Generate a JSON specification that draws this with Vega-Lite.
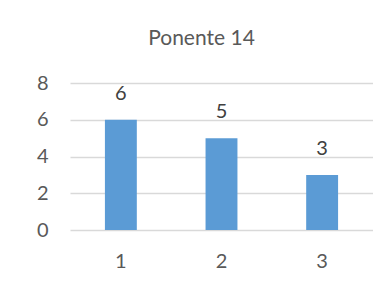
{
  "$schema": "https://vega.github.io/schema/vega-lite/v6.json",
  "autosize": "none",
  "width": 303,
  "height": 147,
  "padding": {"left": 70, "top": 83, "right": 0, "bottom": 64},
  "background": "white",
  "title": {
    "text": "Ponente 14",
    "anchor": "middle",
    "frame": "group",
    "font": "Lato",
    "fontSize": 21,
    "fontWeight": "normal",
    "color": "#595959",
    "baseline": "alphabetic",
    "offset": 7,
    "dx": -20
  },
  "config": {
    "view": {"stroke": null},
    "font": "Lato"
  },
  "data": {
    "values": [
      {"cat": "1", "value": 6},
      {"cat": "2", "value": 5},
      {"cat": "3", "value": 3}
    ]
  },
  "encoding": {
    "x": {
      "field": "cat",
      "type": "nominal",
      "scale": {"paddingInner": 0.683, "paddingOuter": 0.347},
      "axis": {
        "title": null,
        "labelAngle": 0,
        "ticks": false,
        "domain": false,
        "labelFont": "Lato",
        "labelFontSize": 20,
        "labelColor": "#595959",
        "labelPadding": 21
      }
    },
    "y": {
      "field": "value",
      "type": "quantitative",
      "scale": {"domain": [0, 8], "nice": false},
      "axis": {
        "title": null,
        "values": [0, 2, 4, 6, 8],
        "ticks": false,
        "domain": false,
        "grid": true,
        "gridColor": "#d9d9d9",
        "gridWidth": 1.5,
        "labelFont": "Lato",
        "labelFontSize": 20,
        "labelColor": "#595959",
        "labelPadding": 22
      }
    }
  },
  "layer": [
    {"mark": {"type": "bar", "color": "#5B9BD5"}},
    {
      "mark": {"type": "text", "baseline": "alphabetic", "dy": -20, "font": "Lato", "fontSize": 20, "color": "#404040"},
      "encoding": {"text": {"field": "value", "type": "quantitative"}}
    }
  ]
}
